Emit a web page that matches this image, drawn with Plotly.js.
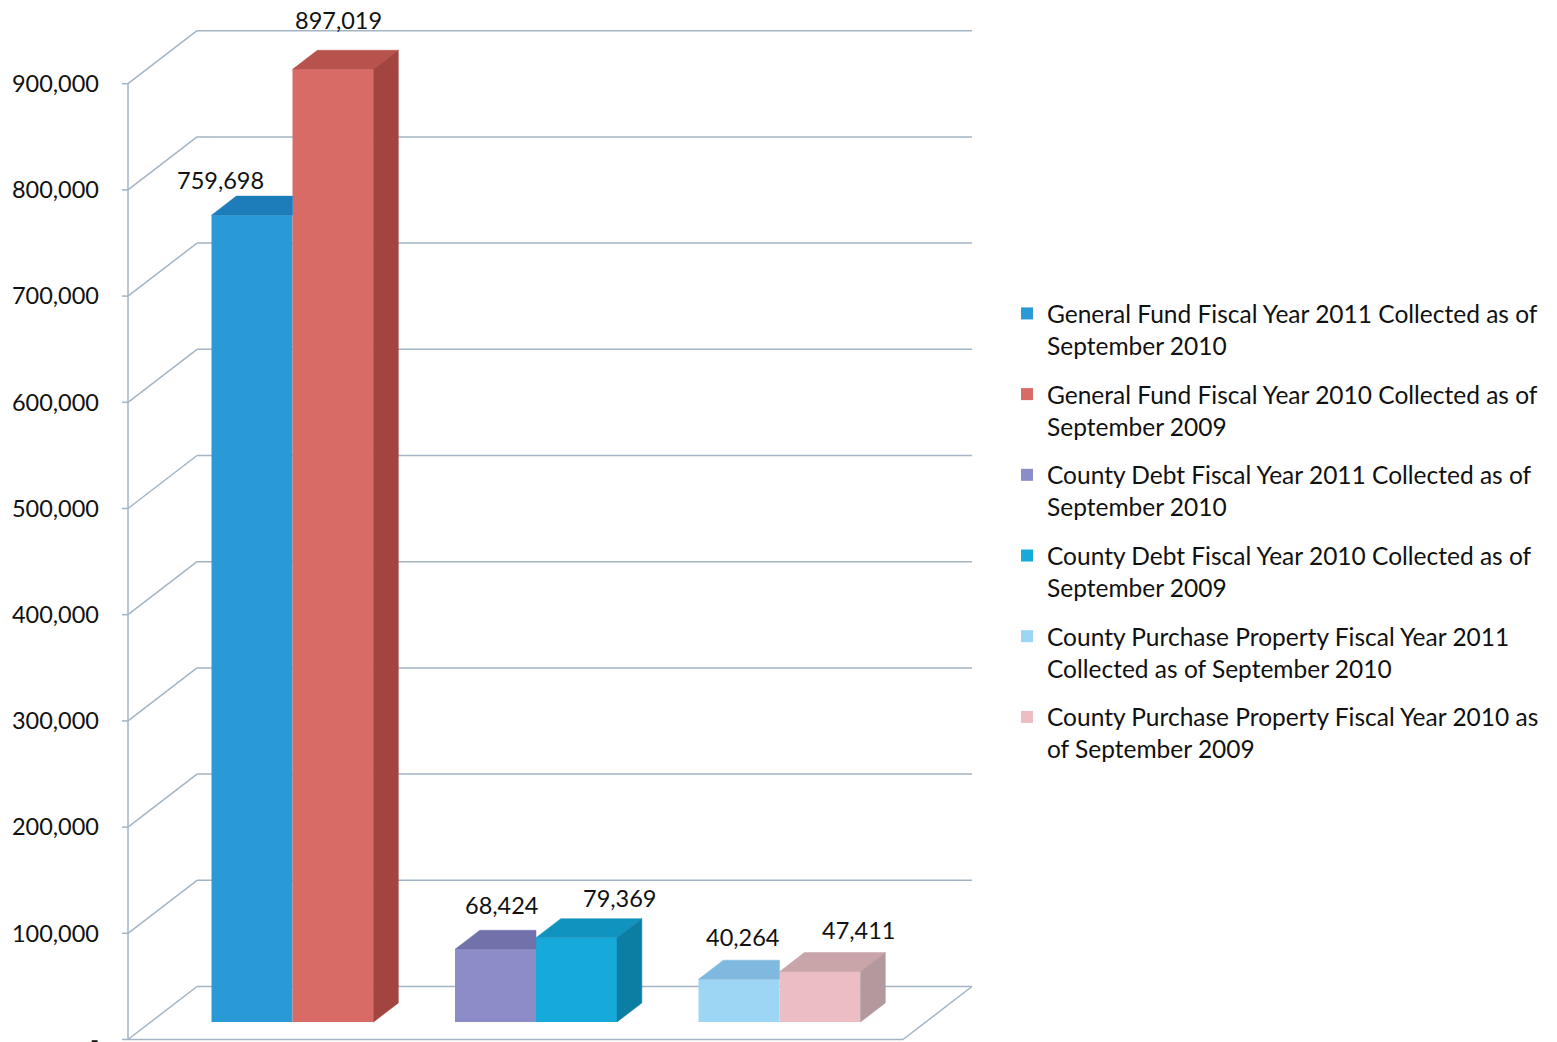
<!DOCTYPE html>
<html>
<head>
<meta charset="utf-8">
<script src="https://cdn.plot.ly/plotly-3.0.1.min.js"></script>
<style>
  html, body { margin: 0; padding: 0; background: #ffffff; }
  #chart { width: 1557px; height: 1042px; }
</style>
</head>
<body>
<div id="chart"></div>
<script>
// ---------------- DATA ----------------
const categories = ['General Fund', 'County Debt', 'County Purchase Property'];
const seriesNames = [
  'General Fund Fiscal Year 2011 Collected as of<br>September 2010',
  'General Fund Fiscal Year 2010 Collected as of<br>September 2009',
  'County Debt Fiscal Year 2011 Collected as of<br>September 2010',
  'County Debt Fiscal Year 2010 Collected as of<br>September 2009',
  'County Purchase Property Fiscal Year 2011<br>Collected as of September 2010',
  'County Purchase Property Fiscal Year 2010 as<br>of September 2009'
];
const seriesCategory = [0, 0, 1, 1, 2, 2];
const seriesValues = [759698, 897019, 68424, 79369, 40264, 47411];
const seriesLabels = ['759,698', '897,019', '68,424', '79,369', '40,264', '47,411'];
const yTickValues = [0, 100000, 200000, 300000, 400000, 500000, 600000, 700000, 800000, 900000];
const yTickLabels = ['-', '100,000', '200,000', '300,000', '400,000', '500,000', '600,000', '700,000', '800,000', '900,000'];

// ---------------- STYLE ----------------
const seriesSlot = [0, 1, 0, 1, 0, 1];              // left / right bar within a group
const frontColors = ['#2A9AD7', '#D96B66', '#8B8CC8', '#16AADA', '#9DD5F5', '#ECBEC4'];
const topColors   = ['#1C7DBA', '#B8524D', '#7172AA', '#1193C0', '#80B9DF', '#C9A4A9'];
const sideColors  = ['#176C9E', '#A2443F', '#5E5F95', '#0C7EA4', '#6CA0C4', '#B3989D'];
const labelShift  = [[-44, 16], [-7, 30], [-6, 25], [31, 21], [-9, 23], [26, 23]];
const gridColor = '#A3B5C4';
const FONT = 'Lato, "Open Sans", sans-serif';
const TEXT_COLOR = '#111111';

// pixel geometry of the oblique projection
const W = 1557, Hpage = 1042;
const PLOT_L = 110, PLOT_R = 980, PLOT_T = 20, PLOT_B = 1042;
const GROUP0_PX = 292.5, CAT_PX = 243.5;     // x pixel of first category centre, px per category
const BAR_ZERO_PX = 1022, PX_PER_UNIT = 0.001062;
const DEPTH_PX = [69, 53];                   // full-depth shift (right, up)
const FRONT_D = -0.33, BAR_BACK_D = 0.36, BACK_D = 0.67;
const BAR_W = 81 / CAT_PX;

const xAt = px => (px - GROUP0_PX) / CAT_PX;
const xRange = [xAt(PLOT_L), xAt(PLOT_R)];
const yRange = [(BAR_ZERO_PX - PLOT_B) / PX_PER_UNIT, (BAR_ZERO_PX - PLOT_T) / PX_PER_UNIT];
const DX = DEPTH_PX[0] / CAT_PX, DY = DEPTH_PX[1] / PX_PER_UNIT;
const P = (X, Y, d) => [X + d * DX, Y + d * DY];

const X_L = xAt(128) - FRONT_D * DX;
const X_R = xAt(972) - BACK_D * DX;

// ---------------- WALLS / GRID ----------------
const shapes = [];
function seg(a, b, color, width) {
  shapes.push({type: 'line', xref: 'x', yref: 'y', layer: 'below',
    x0: a[0], y0: a[1], x1: b[0], y1: b[1], line: {color: color, width: width}});
}
yTickValues.forEach(v => {
  seg(P(X_L, v, BACK_D), P(X_R, v, BACK_D), gridColor, 1.5);
  seg(P(X_L, v, FRONT_D), P(X_L, v, BACK_D), gridColor, 1.5);
  const f = P(X_L, v, FRONT_D);
  seg([f[0] - 6 / CAT_PX, f[1]], f, gridColor, 1.5);
});
const maxTick = yTickValues[yTickValues.length - 1];
seg(P(X_L, 0, FRONT_D), P(X_L, maxTick, FRONT_D), gridColor, 1.5);
seg(P(X_L, 0, FRONT_D), P(X_R, 0, FRONT_D), gridColor, 1.5);
seg(P(X_R, 0, FRONT_D), P(X_R, 0, BACK_D), gridColor, 1.5);

// ---------------- BARS ----------------
const traces = [];
const faces = [];
const annotations = [];
seriesValues.forEach((v, i) => {
  const c = seriesCategory[i];
  const slot = seriesSlot[i];
  const x0 = c + (slot === 0 ? -BAR_W : 0);
  const x1 = x0 + BAR_W;
  traces.push({
    type: 'bar', name: seriesNames[i], legendgroup: 'g' + i,
    x: [x0 + BAR_W / 2], y: [v], width: [BAR_W],
    marker: {color: frontColors[i], line: {width: 0}},
    hovertemplate: categories[c] + '<br>%{y:,}<extra></extra>'
  });
  // neighbour on the right within the same group (hides this bar's side)
  let hidden = false;
  if (slot === 0) {
    const j = seriesValues.findIndex((w, k) => seriesCategory[k] === c && seriesSlot[k] === 1);
    hidden = j >= 0 && seriesValues[j] >= v;
  }
  const fl = P(x0, v, 0), fr = P(x1, v, 0);
  const bl = P(x0, v, BAR_BACK_D), br = P(x1, v, BAR_BACK_D);
  let topX, topY;
  if (hidden) {
    topX = [fl[0], fr[0], fr[0], bl[0], fl[0]];
    topY = [fl[1], fr[1], br[1], bl[1], fl[1]];
  } else {
    topX = [fl[0], fr[0], br[0], bl[0], fl[0]];
    topY = [fl[1], fr[1], br[1], bl[1], fl[1]];
  }
  faces.push({type: 'scatter', mode: 'lines', x: topX, y: topY, fill: 'toself',
    fillcolor: topColors[i], line: {color: topColors[i], width: 0.5},
    showlegend: false, hoverinfo: 'skip'});
  if (!hidden) {
    const b0 = P(x1, 0, 0), b1 = P(x1, 0, BAR_BACK_D);
    faces.push({type: 'scatter', mode: 'lines',
      x: [b0[0], b1[0], br[0], fr[0], b0[0]],
      y: [b0[1], b1[1], br[1], fr[1], b0[1]], fill: 'toself',
      fillcolor: sideColors[i], line: {color: sideColors[i], width: 0.5},
      showlegend: false, hoverinfo: 'skip'});
  }
  const mid = P(x0 + BAR_W / 2, v, BAR_BACK_D / 2);
  annotations.push({x: mid[0], y: v + BAR_BACK_D * DY, xref: 'x', yref: 'y',
    text: seriesLabels[i], showarrow: false, xanchor: 'center', yanchor: 'middle',
    xshift: labelShift[i][0], yshift: labelShift[i][1],
    font: {family: FONT, size: 23.5, color: TEXT_COLOR}});
});

const layout = {
  width: W, height: Hpage,
  margin: {l: PLOT_L, r: W - PLOT_R, t: PLOT_T, b: Hpage - PLOT_B, pad: 0},
  paper_bgcolor: '#ffffff', plot_bgcolor: 'rgba(0,0,0,0)',
  font: {family: FONT, size: 22, color: TEXT_COLOR},
  barmode: 'overlay',
  showlegend: true,
  legend: {x: (1007 - PLOT_L) / (PLOT_R - PLOT_L), xanchor: 'left',
    y: 1 - (291 - PLOT_T) / (PLOT_B - PLOT_T), yanchor: 'top',
    font: {family: FONT, size: 24.5, color: TEXT_COLOR},
    tracegroupgap: 14, valign: 'top', bgcolor: 'rgba(0,0,0,0)'},
  xaxis: {range: xRange, showgrid: false, zeroline: false, showline: false,
    showticklabels: false, ticks: '', fixedrange: true},
  yaxis: {range: yRange, showgrid: false, zeroline: false, showline: false,
    tickmode: 'array', tickvals: yTickValues.map(v => v + FRONT_D * DY), ticktext: yTickLabels,
    ticks: '', ticklabelstandoff: 10, ticklabeloverflow: 'allow',
    tickfont: {family: FONT, size: 23.5, color: TEXT_COLOR},
    fixedrange: true},
  shapes: shapes,
  annotations: annotations
};

Plotly.newPlot('chart', traces.concat(faces), layout, {displayModeBar: false, staticPlot: false});
</script>
</body>
</html>
